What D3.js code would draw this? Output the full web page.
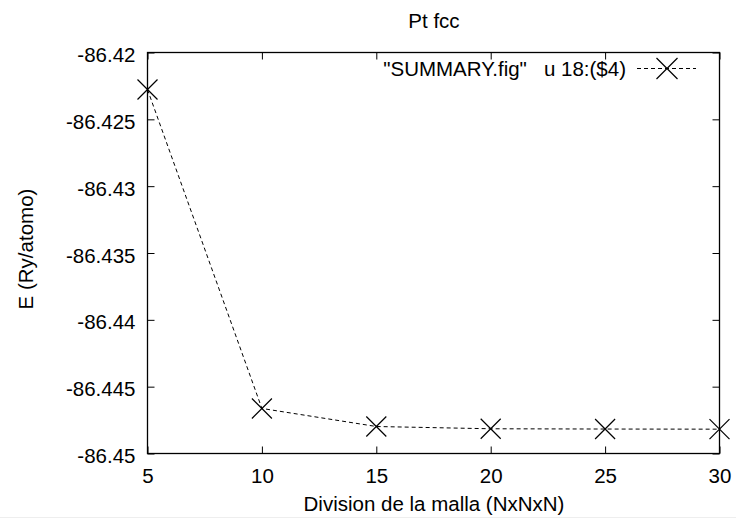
<!DOCTYPE html>
<html><head><meta charset="utf-8">
<script src="https://cdn.jsdelivr.net/npm/d3@7"></script>
<style>body{margin:0;background:#fff}svg{display:block}text{font-family:"Liberation Sans",Arial,sans-serif}</style>
</head><body><svg id="c" width="736" height="524"></svg>
<script>
const divisions = [5, 10, 15, 20, 25, 30];
const energies = [-86.42277, -86.44663, -86.44798, -86.44815, -86.44817, -86.44818];
const xTicks = [5, 10, 15, 20, 25, 30];
const yTicks = [-86.42, -86.425, -86.43, -86.435, -86.44, -86.445, -86.45];
const title = "Pt fcc";
const xLabel = "Division de la malla (NxNxN)";
const yLabel = "E (Ry/atomo)";
const legendLabel = "\"SUMMARY.fig\"   u 18:($4)";

const svg = d3.select("#c");
const FONT = '"Liberation Sans",Arial,sans-serif';
const L = 147.5, R = 719.5, T = 52.5, B = 453.5;
const x = d3.scaleLinear().domain([5, 30]).range([L, R]);
const y = d3.scaleLinear().domain([-86.45, -86.42]).range([B, T]);
const tl = 7, fs = 20.5;

const gx = svg.append("g").attr("transform", `translate(0,${B})`)
  .call(d3.axisBottom(x).tickValues(xTicks).tickSize(-tl).tickFormat(d3.format("d")));
const gxt = svg.append("g").attr("transform", `translate(0,${T})`)
  .call(d3.axisTop(x).tickValues(xTicks).tickSize(-tl).tickFormat(""));
const gy = svg.append("g").attr("transform", `translate(${L},0)`)
  .call(d3.axisLeft(y).tickValues(yTicks).tickSize(-tl).tickFormat(d => String(+d.toFixed(3))));
const gyr = svg.append("g").attr("transform", `translate(${R},0)`)
  .call(d3.axisRight(y).tickValues(yTicks).tickSize(-tl).tickFormat(""));
[gx, gxt, gy, gyr].forEach(g => {
  g.attr("font-size", null).attr("font-family", null);
  g.select(".domain").remove();
  g.selectAll("line").attr("stroke", "#000").attr("stroke-width", 1);
  g.selectAll("text").attr("font-size", fs).attr("fill", "#000").attr("font-family", FONT);
});
gx.selectAll(".tick text").attr("y", 29).attr("dy", null);
gy.selectAll(".tick text").attr("x", -12).attr("dy", null).attr("y", 9);

svg.append("rect").attr("x", L).attr("y", T).attr("width", R - L).attr("height", B - T)
  .attr("fill", "none").attr("stroke", "#000").attr("stroke-width", 1.3);

const line = d3.line().x((d, i) => x(divisions[i])).y(d => y(d));
svg.append("path").datum(energies).attr("d", line).attr("fill", "none")
  .attr("stroke", "#000").attr("stroke-width", 1).attr("stroke-dasharray", "4,3");

function cross(g, cx, cy, ms) {
  g.append("path").attr("d", `M${cx - ms},${cy - ms}L${cx + ms},${cy + ms}M${cx - ms},${cy + ms}L${cx + ms},${cy - ms}`)
    .attr("stroke", "#000").attr("stroke-width", 1.2).attr("fill", "none");
}
const mg = svg.append("g");
energies.forEach((e, i) => cross(mg, x(divisions[i]), y(e), 10));

svg.append("text").attr("x", 626).attr("y", 76).attr("text-anchor", "end")
  .attr("font-size", fs).attr("font-family", FONT).style("white-space", "pre").text(legendLabel);
svg.append("line").attr("x1", 637).attr("x2", 696).attr("y1", 68.5).attr("y2", 68.5)
  .attr("stroke", "#000").attr("stroke-dasharray", "4,3");
cross(svg, 667, 68.5, 10.5);

svg.append("text").attr("x", 434).attr("y", 28).attr("text-anchor", "middle")
  .attr("font-size", fs).attr("font-family", FONT).text(title);
svg.append("text").attr("x", 434).attr("y", 511).attr("text-anchor", "middle")
  .attr("font-size", fs).attr("font-family", FONT).text(xLabel);
svg.append("text").attr("transform", "translate(33,249) rotate(-90)").attr("text-anchor", "middle")
  .attr("font-size", fs).attr("font-family", FONT).text(yLabel);

svg.append("line").attr("x1", 0).attr("x2", 736).attr("y1", 517.5).attr("y2", 517.5).attr("stroke", "#eee");
</script></body></html>
